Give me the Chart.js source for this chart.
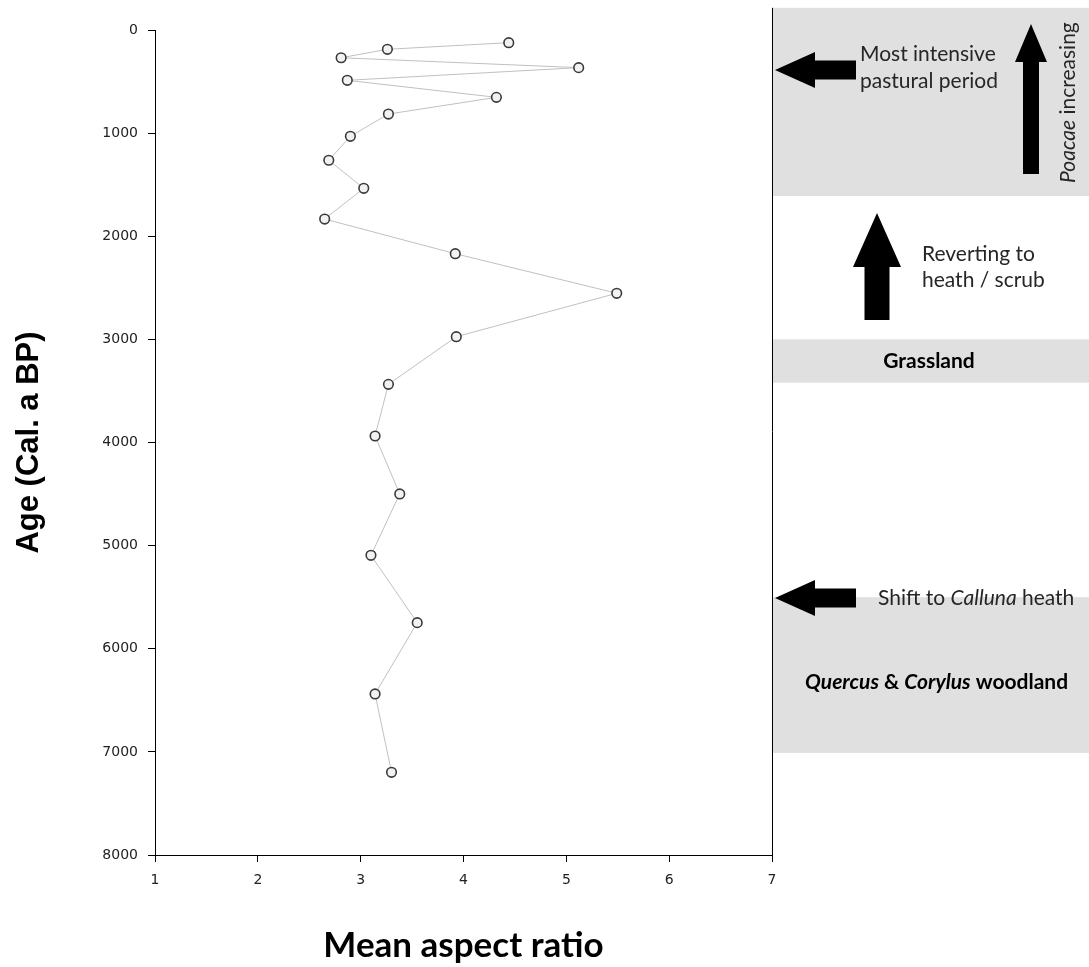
<!DOCTYPE html>
<html>
<head>
<meta charset="utf-8">
<script src="https://cdn.jsdelivr.net/npm/chart.js@4"></script>
<style>
  html, body { margin: 0; padding: 0; background: #fff; }
</style>
</head>
<body>
<canvas id="aspectChart" width="1089" height="967"></canvas>
<script>
// mean aspect ratio per sample, with its calibrated age (cal. a BP)
const ratios = [4.44, 3.26, 2.81, 5.12, 2.87, 4.32, 3.27, 2.90, 2.69, 3.03, 2.65,
                3.92, 5.49, 3.93, 3.27, 3.14, 3.38, 3.10, 3.55, 3.14, 3.30];
const ages = [123, 187, 269, 365, 488, 653, 815, 1031, 1263, 1535, 1833,
              2169, 2553, 2974, 3436, 3937, 4499, 5094, 5747, 6438, 7198];

const xTicks = [1, 2, 3, 4, 5, 6, 7];
const yTicks = [0, 1000, 2000, 3000, 4000, 5000, 6000, 7000, 8000];

// vegetation zones shaded on the right (ages)
const bandFrom = [-215, 3000, 5500];
const bandTo = [1610, 3420, 7010];

const FONT = 'Lato, "Open Sans", sans-serif';
const NOTE = 21;

function leftArrow(ctx, tipX, y, headLen, headHalf, endX, shaftHalf) {
  ctx.beginPath();
  ctx.moveTo(tipX, y);
  ctx.lineTo(tipX + headLen, y - headHalf);
  ctx.lineTo(tipX + headLen, y - shaftHalf);
  ctx.lineTo(endX, y - shaftHalf);
  ctx.lineTo(endX, y + shaftHalf);
  ctx.lineTo(tipX + headLen, y + shaftHalf);
  ctx.lineTo(tipX + headLen, y + headHalf);
  ctx.closePath();
  ctx.fill();
}

function upArrow(ctx, x, tipY, headLen, headHalf, endY, shaftHalf) {
  ctx.beginPath();
  ctx.moveTo(x, tipY);
  ctx.lineTo(x + headHalf, tipY + headLen);
  ctx.lineTo(x + shaftHalf, tipY + headLen);
  ctx.lineTo(x + shaftHalf, endY);
  ctx.lineTo(x - shaftHalf, endY);
  ctx.lineTo(x - shaftHalf, tipY + headLen);
  ctx.lineTo(x - headHalf, tipY + headLen);
  ctx.closePath();
  ctx.fill();
}

// text made of runs like [['Quercus', true], [' & ', false]] (italic flag)
function runsWidth(ctx, runs, size, weight) {
  let w = 0;
  runs.forEach(r => {
    ctx.font = (r[1] ? 'italic ' : '') + weight + ' ' + size + 'px ' + FONT;
    w += ctx.measureText(r[0]).width;
  });
  return w;
}
function drawRuns(ctx, runs, x, y, size, weight) {
  runs.forEach(r => {
    ctx.font = (r[1] ? 'italic ' : '') + weight + ' ' + size + 'px ' + FONT;
    ctx.fillText(r[0], x, y);
    x += ctx.measureText(r[0]).width;
  });
}

const sidePanel = {
  id: 'sidePanel',
  beforeDraw(chart) {
    const ctx = chart.ctx;
    const y = chart.scales.y;
    const right = chart.chartArea.right;
    const W = chart.width;
    ctx.save();
    ctx.fillStyle = '#e0e0e0';
    for (let i = 0; i < bandFrom.length; i++) {
      const t = y.getPixelForValue(bandFrom[i]);
      const b = y.getPixelForValue(bandTo[i]);
      ctx.fillRect(right, t, W - right, b - t);
    }
    ctx.restore();
  },
  afterDraw(chart) {
    const ctx = chart.ctx;
    const y = chart.scales.y;
    const right = chart.chartArea.right;
    ctx.save();
    // divider between chart and notes
    ctx.strokeStyle = '#000';
    ctx.lineWidth = 1;
    ctx.beginPath();
    ctx.moveTo(right + 0.5, y.getPixelForValue(bandFrom[0]));
    ctx.lineTo(right + 0.5, chart.chartArea.bottom);
    ctx.stroke();

    ctx.fillStyle = '#000';
    leftArrow(ctx, right + 3, y.getPixelForValue(388), 40, 18, right + 84, 9.5);
    leftArrow(ctx, right + 3, y.getPixelForValue(5508), 40, 18, right + 84, 9.5);
    upArrow(ctx, 1031, 24, 38, 16, 174, 8);
    upArrow(ctx, 877, 213, 54, 24, 320, 12.5);

    ctx.textBaseline = 'middle';
    ctx.textAlign = 'left';
    ctx.fillStyle = '#262626';
    drawRuns(ctx, [['Most intensive', false]], 860, 54, NOTE, 'normal');
    drawRuns(ctx, [['pastural period', false]], 860, 81, NOTE, 'normal');
    drawRuns(ctx, [['Reverting to', false]], 922, 254, NOTE, 'normal');
    drawRuns(ctx, [['heath / scrub', false]], 922, 280, NOTE, 'normal');
    drawRuns(ctx, [['Shift to ', false], ['Calluna', true], [' heath', false]], 878, 598, NOTE, 'normal');

    ctx.fillStyle = '#000';
    const g = [['Grassland', false]];
    drawRuns(ctx, g, 929 - runsWidth(ctx, g, NOTE, 'bold') / 2, y.getPixelForValue(3210), NOTE, 'bold');
    drawRuns(ctx, [['Quercus', true], [' & ', false], ['Corylus', true], [' woodland', false]], 805, 682, NOTE, 'bold');

    // rotated note beside the tall arrow
    ctx.save();
    ctx.translate(1068, 183);
    ctx.rotate(-Math.PI / 2);
    ctx.fillStyle = '#262626';
    drawRuns(ctx, [['Poacae', true], [' increasing', false]], 0, 0, NOTE, 'normal');
    ctx.restore();
    ctx.restore();
  }
};

const points = ages.map((a, i) => ({ x: ratios[i], y: a }));

new Chart(document.getElementById('aspectChart'), {
  type: 'scatter',
  data: {
    datasets: [{
      data: points,
      showLine: true,
      borderColor: '#c0c0c0',
      borderWidth: 1,
      pointRadius: 4.8,
      pointBorderWidth: 1.6,
      pointBorderColor: '#3a3a3a',
      pointBackgroundColor: '#f2f2f2'
    }]
  },
  options: {
    responsive: false,
    animation: false,
    layout: { padding: { top: 30, right: 317, left: 0, bottom: 0 } },
    plugins: { legend: { display: false }, tooltip: { enabled: false } },
    scales: {
      x: {
        type: 'linear',
        min: 1, max: 7,
        afterBuildTicks: s => { s.ticks = xTicks.map(v => ({ value: v })); },
        afterFit: s => { s.height = 112; },
        ticks: { color: '#222', font: { family: 'DejaVu Sans', size: 14 }, padding: 10, maxRotation: 0,
                 callback: v => String(v) },
        grid: { drawOnChartArea: false, tickLength: 7, color: '#000' },
        border: { color: '#000', width: 1 },
        title: {
          display: true, text: 'Mean aspect ratio', color: '#000',
          font: { family: FONT, size: 35, weight: 'bold' },
          padding: { top: 0, bottom: 0 }
        }
      },
      y: {
        type: 'linear',
        min: 0, max: 8000, reverse: true,
        afterBuildTicks: s => { s.ticks = yTicks.map(v => ({ value: v })); },
        afterFit: s => { s.width = 155; },
        ticks: { color: '#222', font: { family: 'DejaVu Sans', size: 14 }, padding: 10,
                 callback: v => String(v) },
        grid: { drawOnChartArea: false, tickLength: 7, color: '#000' },
        border: { color: '#000', width: 1 },
        title: {
          display: true, text: 'Age (Cal. a BP)', color: '#000',
          font: { family: '"Liberation Sans", Arial, sans-serif', size: 31, weight: 'bold' },
          padding: { top: 11, bottom: 0 }
        }
      }
    }
  },
  plugins: [sidePanel]
});
</script>
</body>
</html>
